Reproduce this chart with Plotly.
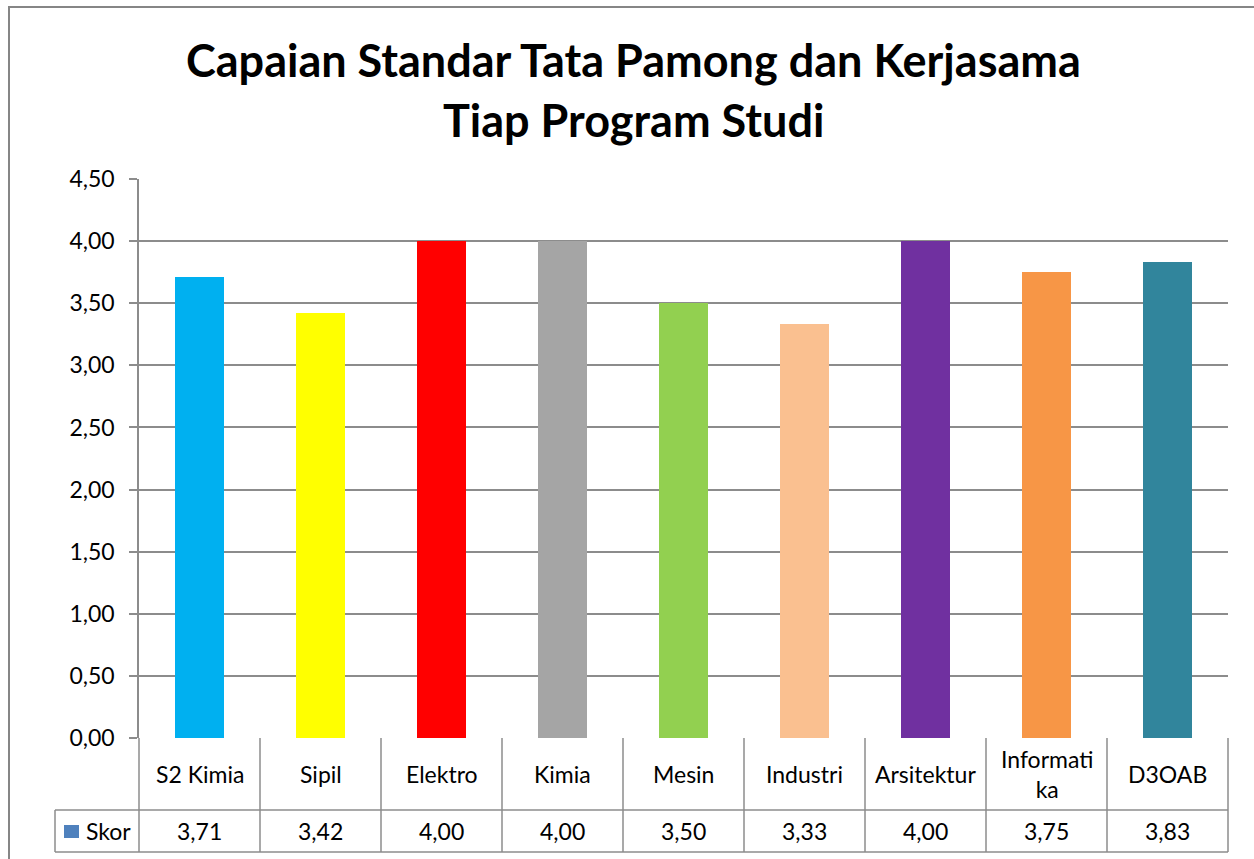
import plotly.graph_objects as go

categories = ["S2 Kimia", "Sipil", "Elektro", "Kimia", "Mesin", "Industri", "Arsitektur", "Informati<br>ka", "D3OAB"]
values = [3.71, 3.42, 4.00, 4.00, 3.50, 3.33, 4.00, 3.75, 3.83]
value_labels = ["3,71", "3,42", "4,00", "4,00", "3,50", "3,33", "4,00", "3,75", "3,83"]
colors = ["#00b0f0", "#ffff00", "#ff0000", "#a5a5a5", "#92d050", "#fac090", "#7030a0", "#f79646", "#31859c"]
series_name = "Skor"
legend_color = "#4f81bd"
title_lines = ["Capaian Standar Tata Pamong dan Kerjasama", "Tiap Program Studi"]
y_ticks = [0, 0.5, 1.0, 1.5, 2.0, 2.5, 3.0, 3.5, 4.0, 4.5]

W, H = 1254, 859
L, R, T, B = 139, 26, 179, 121
pw, ph = W - L - R, H - T - B
n = len(categories)
FONT = "Lato, Carlito, Calibri, sans-serif"
GRID = "#8c8c8c"
FS = 23

def px_x(p):
    return (p - L) / pw

def px_y(p):
    return (H - B - p) / ph

x_pos = [i + 0.5 for i in range(n)]

fig = go.Figure(go.Bar(
    x=x_pos, y=values, width=0.405, marker=dict(color=colors, line=dict(width=0)),
    showlegend=False, hoverinfo="skip"))

shapes = []
annotations = []
# outer chart border
shapes.append(dict(type="rect", xref="paper", yref="paper", x0=px_x(9), x1=px_x(W + 20),
                   y0=px_y(H + 20), y1=px_y(7), line=dict(color="#868686", width=2)))
# data table
row1 = px_y(810)
row2 = px_y(852)
for i in range(n + 1):
    xp = i / n
    shapes.append(dict(type="line", xref="paper", yref="paper", x0=xp, x1=xp, y0=row2, y1=0,
                       line=dict(color=GRID, width=1.5)))
shapes.append(dict(type="line", xref="paper", yref="paper", x0=px_x(55), x1=1, y0=row1, y1=row1,
                   line=dict(color=GRID, width=1.5)))
shapes.append(dict(type="line", xref="paper", yref="paper", x0=px_x(55), x1=1, y0=row2, y1=row2,
                   line=dict(color=GRID, width=1.5)))
shapes.append(dict(type="line", xref="paper", yref="paper", x0=px_x(55), x1=px_x(55), y0=row2, y1=row1,
                   line=dict(color=GRID, width=1.5)))
# legend key
shapes.append(dict(type="rect", xref="paper", yref="paper", x0=px_x(64), x1=px_x(79),
                   y0=px_y(838), y1=px_y(825), fillcolor=legend_color, line=dict(width=0)))
annotations.append(dict(text=series_name, xref="paper", yref="paper", x=px_x(84), y=(row1 + row2) / 2,
                        xanchor="left", yanchor="middle", showarrow=False,
                        font=dict(family=FONT, size=FS, color="#000")))
for i in range(n):
    annotations.append(dict(text=categories[i], xref="x", yref="paper", x=x_pos[i], y=row1 / 2,
                            xanchor="center", yanchor="middle", showarrow=False,
                            font=dict(family=FONT, size=FS, color="#000")))
    annotations.append(dict(text=value_labels[i], xref="x", yref="paper", x=x_pos[i], y=(row1 + row2) / 2,
                            xanchor="center", yanchor="middle", showarrow=False,
                            font=dict(family=FONT, size=FS, color="#000")))
# title
for k, (line, yp) in enumerate(zip(title_lines, [60, 120])):
    annotations.append(dict(text="<b>" + line + "</b>", xref="paper", yref="paper", x=px_x(633), y=px_y(yp),
                            xanchor="center", yanchor="middle", showarrow=False,
                            font=dict(family=FONT, size=45, color="#000")))

fig.update_layout(
    width=W, height=H, margin=dict(l=L, r=R, t=T, b=B, pad=0),
    paper_bgcolor="white", plot_bgcolor="white",
    separators=",.",
    bargap=0,
    shapes=shapes, annotations=annotations,
    xaxis=dict(range=[0, n], showticklabels=False, showgrid=False, zeroline=False,
               showline=False, ticks="", fixedrange=True),
    yaxis=dict(range=[0, 4.5], tickvals=y_ticks, tickformat=".2f", showgrid=True, gridcolor=GRID,
               gridwidth=1.5, zeroline=False, showline=True, linecolor=GRID, linewidth=1.5,
               ticks="outside", ticklen=8, tickcolor=GRID, tickwidth=1.5,
               ticklabelstandoff=10,
               tickfont=dict(family=FONT, size=FS, color="#000"), fixedrange=True),
)
fig.write_html("out.html", config={"displayModeBar": False},
               post_script="document.body.style.margin='0';document.body.style.overflow='hidden';")
